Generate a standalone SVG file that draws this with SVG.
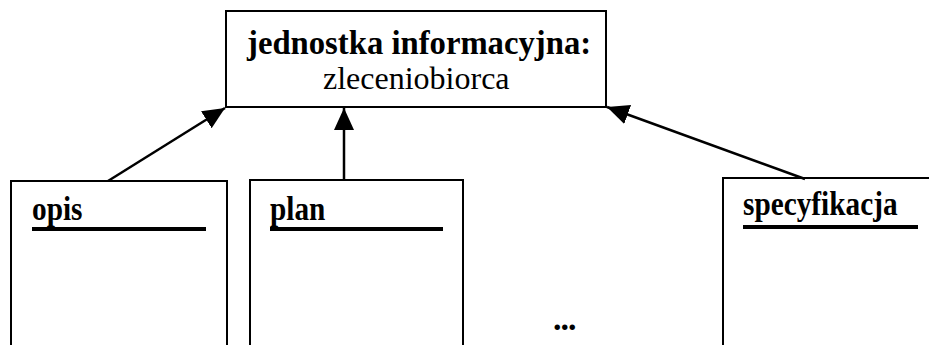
<svg xmlns="http://www.w3.org/2000/svg" width="929" height="345" viewBox="0 0 929 345">
<style>
.box{fill:none;stroke:#000;stroke-width:2}
.conn{fill:none;stroke:#000;stroke-width:2.5}
.ul{stroke:#000;stroke-width:4}
.t{font-family:"Liberation Serif","Times New Roman",serif;fill:#000}
.b{font-weight:bold}
</style>
<defs>
<marker id="arr" markerUnits="userSpaceOnUse" markerWidth="24" markerHeight="22" refX="22" refY="10" orient="auto">
<path d="M0,0 L22,10 L0,20 Z" fill="#000"/>
</marker>
</defs>
<rect width="929" height="345" fill="#fff"/>
<g id="connectors">
<line class="conn" x1="108" y1="181" x2="225" y2="108" marker-end="url(#arr)"/>
<line class="conn" x1="344" y1="181" x2="344" y2="108" marker-end="url(#arr)"/>
<line class="conn" x1="805" y1="179" x2="607" y2="107" marker-end="url(#arr)"/>
</g>
<g id="jednostka">
<rect class="box" x="226" y="11" width="380" height="96"/>
<text class="t b" x="247" y="54" font-size="32.7">jednostka informacyjna:</text>
<text class="t" x="323" y="89" font-size="32">zleceniobiorca</text>
</g>
<g id="opis">
<path class="box" d="M11,346 V181 H227 V346"/>
<text class="t b" transform="translate(32,220) scale(1,1.12)" font-size="29.3">opis</text>
<line class="ul" x1="32" y1="229" x2="206" y2="229"/>
</g>
<g id="plan">
<path class="box" d="M250,346 V180 H463 V346"/>
<text class="t b" transform="translate(270,220) scale(1,1.12)" font-size="29.3">plan</text>
<line class="ul" x1="270" y1="229" x2="443" y2="229"/>
</g>
<g id="specyfikacja">
<path class="box" d="M723,346 V178 H930"/>
<text class="t b" transform="translate(743,215) scale(1,1.12)" font-size="29.3">specyfikacja</text>
<line class="ul" x1="743" y1="227" x2="918" y2="227"/>
</g>
<g id="dots">
<text class="t b" x="553" y="330" font-size="34" letter-spacing="-1">...</text>
</g>
</svg>
